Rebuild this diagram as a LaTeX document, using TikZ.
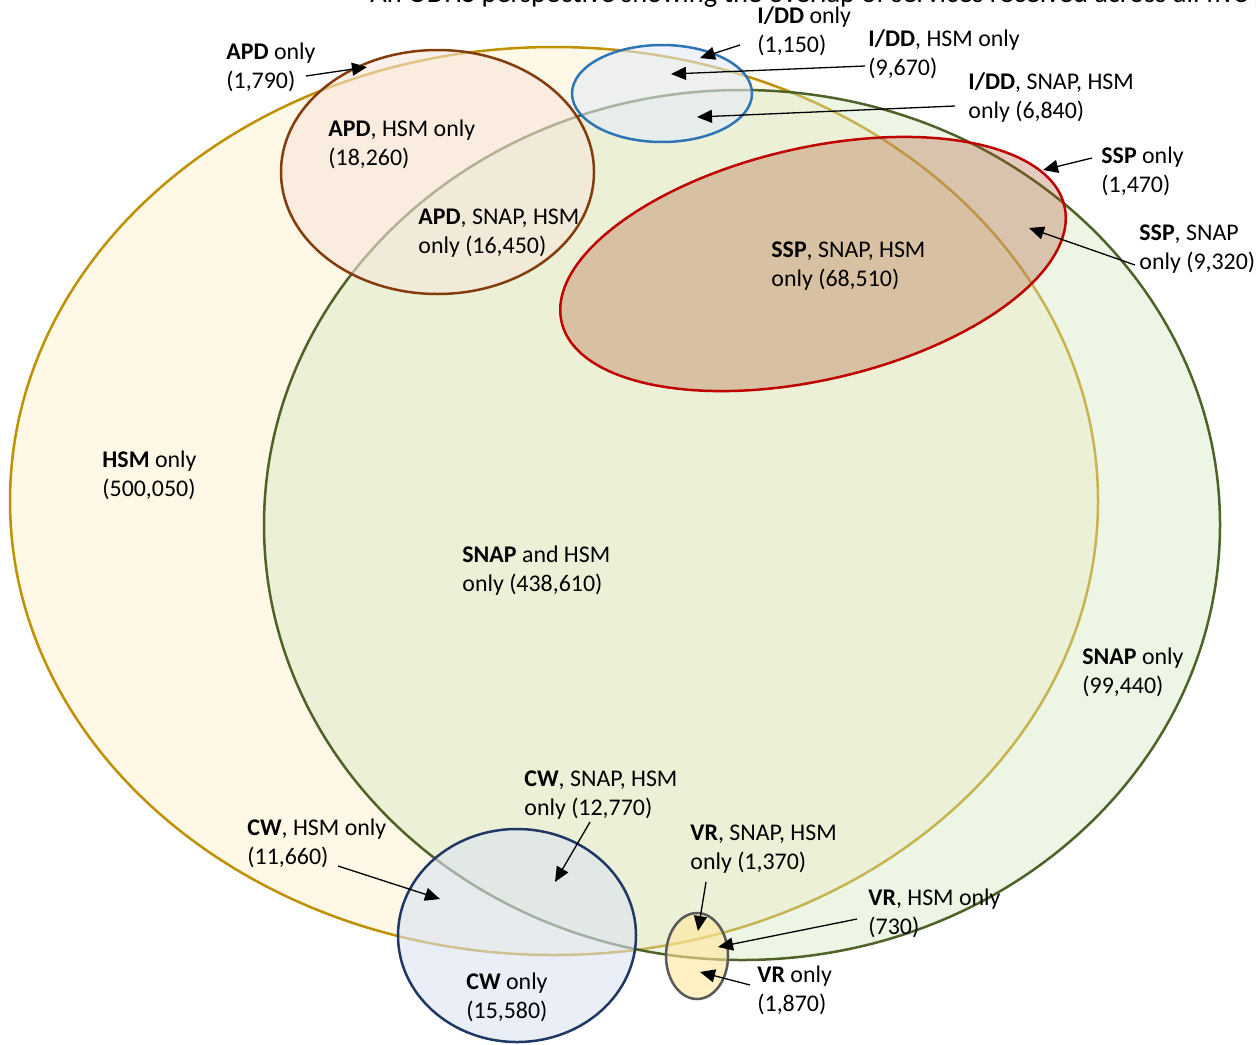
\documentclass[tikz,border=0pt]{standalone}
\usepackage{fontspec}
\setmainfont{Carlito}
\usetikzlibrary{arrows.meta}
\definecolor{hsmline}{HTML}{BF9000}
\definecolor{hsmfill}{HTML}{FFF8E6}
\definecolor{snapline}{HTML}{4F6228}
\definecolor{snapfill}{HTML}{D3E6C2}
\definecolor{apdline}{HTML}{843C0C}
\definecolor{apdfill}{HTML}{F7E6DC}
\definecolor{iddline}{HTML}{2E75B6}
\definecolor{iddfill}{HTML}{E3EBF8}
\definecolor{sspline}{HTML}{C00000}
\definecolor{sspfill}{HTML}{AC522D}
\definecolor{cwline}{HTML}{203864}
\definecolor{cwfill}{HTML}{DAE3F2}
\definecolor{vrline}{HTML}{595959}
\definecolor{vrfill}{HTML}{FFE69D}
\begin{document}
\begin{tikzpicture}[x=0.5pt,y=-0.5pt,
  lbl/.style={anchor=west, inner sep=0pt, align=left, font=\fontsize{11.95}{14.5}\selectfont},
  arr/.style={draw=black, line width=0.65pt, -{Triangle[length=7.5pt,width=6.5pt]}},
  setline/.style={line width=1.25pt}]
\useasboundingbox (0,0) rectangle (1256,1044);
\clip (0,0) rectangle (1256,1044);
% title (cut off at the top)
\node[anchor=base west, inner sep=0pt, font=\fontsize{14.2}{16}\selectfont] (title) at (370,2.5)
  {An ODHS perspective showing the overlap of services received across all five programs};
% sets
\draw[setline, draw=hsmline, fill=hsmfill] (554,501) ellipse [x radius=544, y radius=454];
\draw[setline, draw=snapline, fill=snapfill, fill opacity=0.42] (742,525) ellipse [x radius=478, y radius=435];
\draw[setline, draw=apdline, fill=apdfill, fill opacity=0.6] (437.5,172) ellipse [x radius=156.5, y radius=122];
\draw[setline, draw=iddline, fill=iddfill, fill opacity=0.6] (662,93.5) ellipse [x radius=90, y radius=48.5];
\draw[setline, draw=sspline, fill=sspfill, fill opacity=0.3, rotate around={13:(813,264)}] (813,264) ellipse [x radius=258, y radius=116];
\draw[setline, draw=cwline, fill=cwfill, fill opacity=0.6] (517,935.5) ellipse [x radius=119, y radius=106.5];
\draw[setline, draw=vrline, fill=vrfill, fill opacity=0.6] (697,956) ellipse [x radius=31, y radius=43];
% labels
\node[lbl] (apdonly) at (226,67.5) {\textbf{APD} only\\(1,790)};
\node[lbl] (iddonly) at (757,31.5) {\textbf{I/DD} only\\(1,150)};
\node[lbl] (iddhsm) at (868,54.5) {\textbf{I/DD}, HSM only\\(9,670)};
\node[lbl] (iddsnaphsm) at (968,97.5) {\textbf{I/DD}, SNAP, HSM\\only (6,840)};
\node[lbl] (ssponly) at (1101,171.5) {\textbf{SSP} only\\(1,470)};
\node[lbl] (sspsnap) at (1139,249.5) {\textbf{SSP}, SNAP\\only (9,320)};
\node[lbl] (apdhsm) at (328,144.5) {\textbf{APD}, HSM only\\(18,260)};
\node[lbl] (apdsnaphsm) at (418,233) {\textbf{APD}, SNAP, HSM\\only (16,450)};
\node[lbl] (sspsnaphsm) at (771,266.5) {\textbf{SSP}, SNAP, HSM\\only (68,510)};
\node[lbl] (hsmonly) at (102,475.5) {\textbf{HSM} only\\(500,050)};
\node[lbl] (snaphsm) at (462,570.5) {\textbf{SNAP} and HSM\\only (438,610)};
\node[lbl] (snaponly) at (1082,672.5) {\textbf{SNAP} only\\(99,440)};
\node[lbl] (cwsnaphsm) at (524,795.5) {\textbf{CW}, SNAP, HSM\\only (12,770)};
\node[lbl] (cwhsm) at (247,843.5) {\textbf{CW}, HSM only\\(11,660)};
\node[lbl] (vrsnaphsm) at (690,849.5) {\textbf{VR}, SNAP, HSM\\only (1,370)};
\node[lbl] (vrhsm) at (868,913.5) {\textbf{VR}, HSM only\\(730)};
\node[lbl] (cwonly) at (466,997.5) {\textbf{CW} only\\(15,580)};
\node[lbl] (vronly) at (757,990.5) {\textbf{VR} only\\(1,870)};
% arrow ends
\coordinate (s1) at (306,76);  \coordinate (t1) at (367,67);
\coordinate (s2) at (740,45);  \coordinate (t2) at (700,58);
\coordinate (s3) at (865,66);  \coordinate (t3) at (671,74);
\coordinate (s4) at (955,106); \coordinate (t4) at (697,117);
\coordinate (s5) at (1092,158);\coordinate (t5) at (1043,170);
\coordinate (s6) at (1135,265);\coordinate (t6) at (1029,228);
\coordinate (s7) at (590,822); \coordinate (t7) at (555,882);
\coordinate (s8) at (338,866); \coordinate (t8) at (440,899);
\coordinate (s9) at (706,882); \coordinate (t9) at (698,931);
\coordinate (s10) at (857,919);\coordinate (t10) at (718,947);
\coordinate (s11) at (750,985);\coordinate (t11) at (700,972);
\foreach \i in {1,...,11} {\draw[arr] (s\i) -- (t\i);}
\end{tikzpicture}
\end{document}
